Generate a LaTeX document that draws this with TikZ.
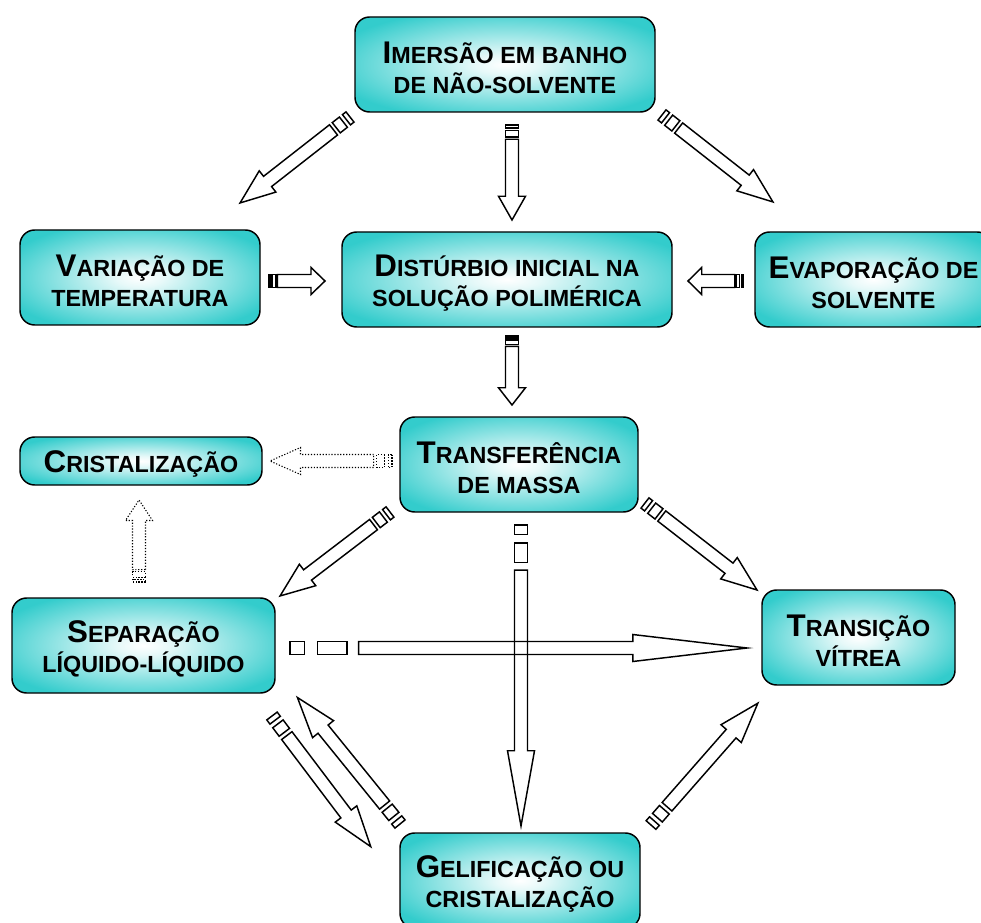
\documentclass[tikz,border=0pt]{standalone}
\usepackage{fontspec}
\setmainfont{Liberation Sans}
\definecolor{boxteal}{RGB}{51,204,204}
\pgfdeclareradialshading{boxglow}{\pgfpointorigin}{color(0bp)=(white); color(5bp)=(white!88!boxteal); color(30bp)=(boxteal); color(80bp)=(boxteal)}
\newcommand\ini[1]{{\fontsize{23.5}{27}\selectfont\vrule height 21pt width 0pt#1}}
\newcommand\stripedarrow[3][]{%
  \pgfmathanglebetweenpoints{\pgfpointanchor{#2}{center}}{\pgfpointanchor{#3}{center}}%
  \let\arrangle\pgfmathresult
  \pgfpointdiff{\pgfpointanchor{#2}{center}}{\pgfpointanchor{#3}{center}}%
  \pgfgetlastxy{\arrdx}{\arrdy}%
  \pgfmathsetmacro\arrlen{veclen(\arrdx,\arrdy)/0.75}%
  \begin{scope}[shift={(#2)},rotate=\arrangle,x=0.75pt,y=0.75pt,arrowline,#1]
    \draw (0,-6.5) rectangle ({0.032*\arrlen},6.5);
    \draw ({0.06*\arrlen},-6.5) rectangle ({0.125*\arrlen},6.5);
    \draw ({0.15*\arrlen},-6.5) -- ({0.75*\arrlen},-6.5) -- ({0.75*\arrlen},-13.5) -- (\arrlen,0)
      -- ({0.75*\arrlen},13.5) -- ({0.75*\arrlen},6.5) -- ({0.15*\arrlen},6.5) -- cycle;
  \end{scope}}

\begin{document}
\begin{tikzpicture}[x=0.75pt,y=-0.75pt,line width=1.1pt,font=\fontsize{17.5}{22.5}\selectfont\bfseries,
  box/.style={draw,shade,shading=boxglow,rounded corners=11pt,align=center,minimum height=71.25pt,inner sep=2pt},
  arrowline/.style={line width=1.1pt},
  dotline/.style={line width=0.8pt,dash pattern=on 0.9pt off 1.3pt}]
\useasboundingbox (0,0) rectangle (981,923);
\clip (0,0) rectangle (981,923);
\node[box,minimum width=225pt] (imersao) at (505,64.5) {\ini{I}MERSÃO EM BANHO\\DE NÃO-SOLVENTE};
\node[box,minimum width=180pt] (variacao) at (140,277.5) {\ini{V}ARIAÇÃO DE\\TEMPERATURA};
\node[box,minimum width=247.5pt] (disturbio) at (507,279.5) {\ini{D}ISTÚRBIO INICIAL NA\\SOLUÇÃO POLIMÉRICA};
\node[box,minimum width=177.75pt] (evaporacao) at (873.5,279.5) {\ini{E}VAPORAÇÃO DE\\SOLVENTE};
\node[box,minimum width=178.5pt] (transferencia) at (519,464.5) {\ini{T}RANSFERÊNCIA\\DE MASSA};
\node[box,minimum width=181.5pt,minimum height=36pt] (cristalizacao) at (141,461) {\ini{C}RISTALIZAÇÃO};
\node[box,minimum width=197.25pt] (separacao) at (143.5,645.5) {\ini{S}EPARAÇÃO\\LÍQUIDO-LÍQUIDO};
\node[box,minimum width=144.75pt] (transicao) at (858.5,637.5) {\ini{T}RANSIÇÃO\\VÍTREA};
\node[box,minimum width=180pt] (gelificacao) at (520,880.5) {\ini{G}ELIFICAÇÃO OU\\CRISTALIZAÇÃO};
\coordinate (imVa) at (350,117);   \coordinate (vaIm) at (240,203);
\coordinate (imDi) at (512,125);   \coordinate (diIm) at (512,220);
\coordinate (imEv) at (662,115);   \coordinate (evIm) at (773,202);
\coordinate (vaDi) at (269,281);   \coordinate (diVa) at (325,281);
\coordinate (evDi) at (743,281);   \coordinate (diEv) at (688,281);
\coordinate (diTr) at (512,336);   \coordinate (trDi) at (512,405);
\coordinate (trCr) at (392,461);   \coordinate (crTr) at (270,461);
\coordinate (seCr) at (139,582);   \coordinate (crSe) at (139,500);
\coordinate (trSe) at (390,512);   \coordinate (seTr) at (280,596);
\coordinate (trGe) at (521,525);   \coordinate (geTr) at (521,826);
\coordinate (seTv) at (290,648);   \coordinate (tvSe) at (747,648);
\coordinate (trTv) at (645,503);   \coordinate (tvTr) at (757,590);
\coordinate (seGe) at (272,716);   \coordinate (geSe) at (371,847);
\coordinate (geSeb) at (400,824);  \coordinate (seGeb) at (297,697);
\coordinate (geTv) at (651,825);   \coordinate (tvGe) at (758,703);
\stripedarrow{imVa}{vaIm}
\stripedarrow{imDi}{diIm}
\stripedarrow{imEv}{evIm}
\stripedarrow{vaDi}{diVa}
\stripedarrow{evDi}{diEv}
\stripedarrow{diTr}{trDi}
\stripedarrow[dotline]{trCr}{crTr}
\stripedarrow[dotline]{seCr}{crSe}
\stripedarrow{trSe}{seTr}
\stripedarrow{trGe}{geTr}
\stripedarrow{seTv}{tvSe}
\stripedarrow{trTv}{tvTr}
\stripedarrow{seGe}{geSe}
\stripedarrow{geSeb}{seGeb}
\stripedarrow{geTv}{tvGe}
\end{tikzpicture}
\end{document}
